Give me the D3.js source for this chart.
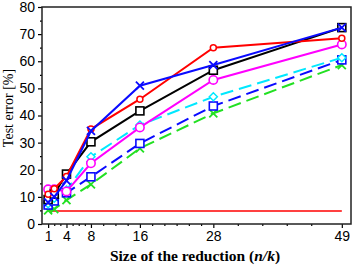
<!DOCTYPE html>
<html>
<head>
<meta charset="utf-8">
<script src="https://cdn.jsdelivr.net/npm/d3@7"></script>
<style>
  body { margin: 0; background: #fff; }
  svg { display: block; }
</style>
</head>
<body>
<div id="vis"></div>
<script>
const FRAME_WIDTH = 353;
const FRAME_HEIGHT = 266;
const MARGINS = { left: 42, right: 2, top: 7, bottom: 42 };

const VIS_WIDTH = FRAME_WIDTH - MARGINS.left - MARGINS.right;
const VIS_HEIGHT = FRAME_HEIGHT - MARGINS.top - MARGINS.bottom;

// data
const sizes = [1, 2, 4, 8, 16, 28, 49];
const xTicks = [1, 4, 8, 16, 28, 49];
const xMinorTicks = [2, 3, 5, 6, 7, 10, 12, 14, 18, 20, 22, 24, 26, 32, 36, 40, 44];
const yTicks = [0, 10, 20, 30, 40, 50, 60, 70, 80];
const yMinorTicks = [5, 15, 25, 35, 45, 55, 65, 75];

const greenDashed = [5, 5.5, 8.8, 14.6, 27.9, 40.8, 58.6];
const blueDashed = [7, 8.5, 11.5, 17.4, 29.7, 43.5, 60.5];
const cyanDashed = [7.5, 9.5, 12.5, 24.8, 36.5, 46.9, 61.3];
const magentaSolid = [12.8, 12.8, 12, 22.4, 35.6, 53.1, 66.2];
const blackSolid = [9, 11, 18.4, 30.3, 41.7, 56.7, 72.4];
const redSolid = [11, 13, 17.5, 35, 46, 65, 68.5];
const blueSolid = [8, 10, 16, 34.3, 51, 58.6, 72.4];
const baseline = [4.8, 4.8];
const baselineX = [1, 49];

const SERIES = [
  { values: greenDashed, color: "#22e022", dash: "13,6", marker: "x" },
  { values: blueDashed, color: "#0a0aff", dash: "13,6", marker: "square" },
  { values: cyanDashed, color: "#00e8ff", dash: "13,6", marker: "diamond" },
  { values: magentaSolid, color: "#ff00ff", dash: null, marker: "circle" },
  { values: blackSolid, color: "#000000", dash: null, marker: "square" },
  { values: redSolid, color: "#ff0000", dash: null, marker: "smallcircle" },
  { values: blueSolid, color: "#0a0aff", dash: null, marker: "x" }
];

const FRAME = d3.select("#vis")
  .append("svg")
  .attr("width", FRAME_WIDTH)
  .attr("height", FRAME_HEIGHT);

const X_SCALE = d3.scaleLinear().domain([0, 50.5]).range([0, VIS_WIDTH]);
const Y_SCALE = d3.scaleLinear().domain([0, 80]).range([VIS_HEIGHT, 0]);

const PLOT = FRAME.append("g")
  .attr("transform", `translate(${MARGINS.left}, ${MARGINS.top})`);

// axes
PLOT.append("g")
  .attr("transform", `translate(0, ${VIS_HEIGHT})`)
  .call(d3.axisBottom(X_SCALE).tickValues(xTicks).tickSize(4).tickPadding(3).tickSizeOuter(0));
PLOT.append("g")
  .attr("transform", `translate(0, ${VIS_HEIGHT})`)
  .call(d3.axisBottom(X_SCALE).tickValues(xMinorTicks).tickSize(2).tickFormat("").tickSizeOuter(0));

PLOT.append("g")
  .call(d3.axisLeft(Y_SCALE).tickValues(yTicks).tickSize(4).tickPadding(3).tickSizeOuter(0));
PLOT.append("g")
  .call(d3.axisLeft(Y_SCALE).tickValues(yMinorTicks).tickSize(2).tickFormat("").tickSizeOuter(0));

FRAME.selectAll(".tick text")
  .attr("font-family", "Liberation Sans, Arial, sans-serif")
  .attr("font-size", 14)
  .attr("fill", "#000");
FRAME.selectAll(".tick line").attr("stroke-width", 1.2);
FRAME.selectAll(".domain").remove();

// box
PLOT.append("rect")
  .attr("x", 0).attr("y", 0)
  .attr("width", VIS_WIDTH).attr("height", VIS_HEIGHT)
  .attr("fill", "none").attr("stroke", "#222").attr("stroke-width", 1.5);

// baseline
PLOT.append("line")
  .attr("x1", X_SCALE(baselineX[0])).attr("x2", X_SCALE(baselineX[1]))
  .attr("y1", Y_SCALE(baseline[0])).attr("y2", Y_SCALE(baseline[1]))
  .attr("stroke", "#ff0000").attr("stroke-width", 1.5);

const line = d3.line()
  .x((d, i) => X_SCALE(sizes[i]))
  .y((d) => Y_SCALE(d));

const drawMarker = (g, type, color) => {
  if (type === "x") {
    g.append("path").attr("d", "M-4,-4L4,4M-4,4L4,-4")
      .attr("stroke", color).attr("stroke-width", 1.8).attr("fill", "none");
  } else if (type === "square") {
    g.append("rect").attr("x", -4).attr("y", -4).attr("width", 8).attr("height", 8)
      .attr("stroke", color).attr("stroke-width", 1.6).attr("fill", "#fff");
  } else if (type === "diamond") {
    g.append("path").attr("d", "M0,-4L4,0L0,4L-4,0Z")
      .attr("stroke", color).attr("stroke-width", 1.5).attr("fill", "#fff");
  } else if (type === "circle") {
    g.append("circle").attr("r", 4.2)
      .attr("stroke", color).attr("stroke-width", 1.6).attr("fill", "#fff");
  } else {
    g.append("circle").attr("r", 3)
      .attr("stroke", color).attr("stroke-width", 1.5).attr("fill", "#fff");
  }
};

SERIES.forEach((s) => {
  PLOT.append("path")
    .datum(s.values)
    .attr("d", line)
    .attr("fill", "none")
    .attr("stroke", s.color)
    .attr("stroke-width", 2)
    .attr("stroke-dasharray", s.dash);
  s.values.forEach((v, i) => {
    const g = PLOT.append("g")
      .attr("transform", `translate(${X_SCALE(sizes[i])}, ${Y_SCALE(v)})`);
    drawMarker(g, s.marker, s.color);
  });
});

// labels
const xLabel = FRAME.append("text")
  .attr("x", 195).attr("y", 261)
  .attr("text-anchor", "middle")
  .attr("font-family", "Liberation Serif, DejaVu Serif, serif")
  .attr("font-weight", "bold")
  .attr("font-size", 15.5)
  .attr("fill", "#000");
xLabel.append("tspan").text("Size of the reduction (");
xLabel.append("tspan").attr("font-style", "italic").text("n/k");
xLabel.append("tspan").text(")");

FRAME.append("text")
  .attr("transform", "translate(13, 108) rotate(-90)")
  .attr("text-anchor", "middle")
  .attr("font-family", "Liberation Serif, DejaVu Serif, serif")
  .attr("font-size", 14)
  .attr("fill", "#000")
  .text("Test error [%]");
</script>
</body>
</html>
